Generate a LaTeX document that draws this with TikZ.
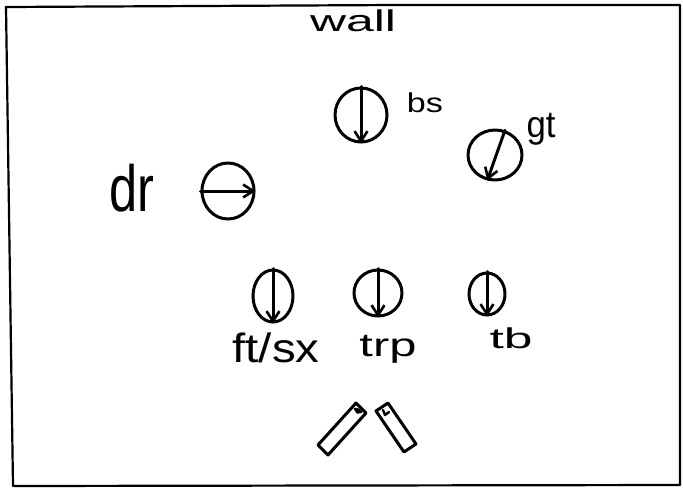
\documentclass[tikz,border=0pt]{standalone}
\usepackage{fontspec}
\setmainfont{Liberation Sans}
\usepackage{graphicx}
\usetikzlibrary{arrows.meta,shapes.geometric}
% set a word into a box of given width and total height
\newcommand{\boxfit}[3]{\resizebox*{#1}{#2}{#3}}
\begin{document}
\begin{tikzpicture}[x=1pt,y=-1pt,
  ink/.style={line width=3pt, line cap=round, line join=round},
  seat/.style={ink, draw, ellipse, inner sep=0pt},
  facing/.style={ink, -{Straight Barb[length=10pt,width=13pt,line width=2.6pt]}},
  lbl/.style={inner sep=0pt, anchor=center}]
\useasboundingbox (0,0) rectangle (683,488);

% room outline
\draw[ink, line width=2.2pt] (6,7) -- (396,5) -- (680,5) -- (680,485) -- (13,486) -- cycle;

% labels
\node[lbl] (wall) at (353,21)  {\boxfit{86pt}{22pt}{wall}};
\node[lbl] (bsl)  at (425,103) {\boxfit{36pt}{20pt}{bs}};
\node[lbl] (gtl)  at (541,129) {\boxfit{29pt}{32pt}{gt}};
\node[lbl] (drl)  at (132,188) {\boxfit{45pt}{48pt}{dr}};
\node[lbl] (ftl)  at (276,348) {\boxfit{87pt}{30pt}{ft/sx}};
\node[lbl] (trpl) at (388,349) {\boxfit{57pt}{28pt}{trp}};
\node[lbl] (tbl)  at (511,338) {\boxfit{43pt}{21pt}{tb}};

% players, each with its facing direction
\node[seat, minimum width=52pt, minimum height=54pt] (bs)  at (361,115) {};
\node[seat, minimum width=54pt, minimum height=50pt] (gt)  at (495,155) {};
\node[seat, minimum width=52pt, minimum height=56pt] (dr)  at (228,191) {};
\node[seat, minimum width=40pt, minimum height=52pt] (ft)  at (273,296) {};
\node[seat, minimum width=48pt, minimum height=46pt] (trp) at (378,293) {};
\node[seat, minimum width=36pt, minimum height=42pt] (tb)  at (487,294) {};

\draw[facing] (bs.north) -- (bs.south);
\draw[facing] (gt.68) -- (gt.253);
\draw[facing] (dr.west) -- (dr.east);
\draw[facing] (ft.north) -- (ft.south);
\draw[facing] (trp.north) -- (trp.south);
\draw[facing] (tb.north) -- (tb.south);

% pair of sticks at the front
\draw[ink] (328,455) -- (318,445) -- (356,403) -- (366,413) -- cycle;
\draw[ink] (355,409) -- (361,412);
\fill (358,411) circle (2.8pt);
\draw[ink] (388,403) -- (376,411) -- (404,452) -- (416,444) -- cycle;
\draw[ink, line width=2.4pt] (383,410) -- (385,415) -- (389,412);
\end{tikzpicture}
\end{document}
